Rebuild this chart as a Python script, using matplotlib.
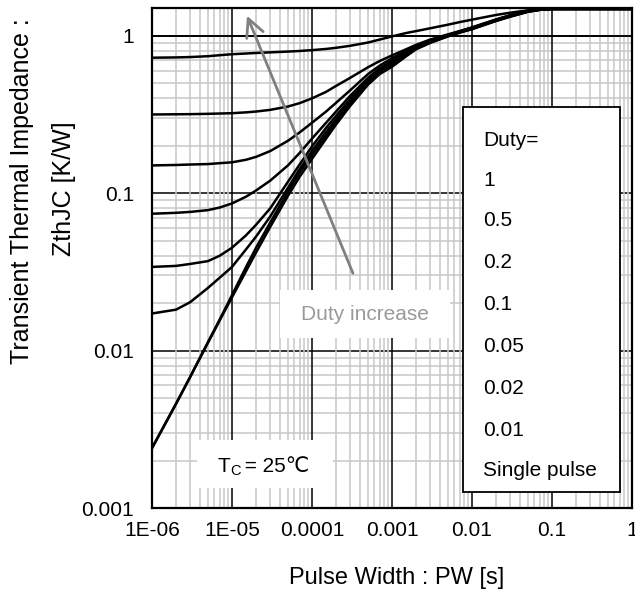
import matplotlib
matplotlib.use("Agg")
import matplotlib.pyplot as plt
from matplotlib.patches import Rectangle
from matplotlib.ticker import LogLocator, FixedLocator, FixedFormatter, NullFormatter

plt.rcParams['font.family'] = ['Liberation Sans', 'DejaVu Sans']

# ---------------- data ----------------
pulse_width = [1e-6, 2e-6, 3e-6, 5e-6, 7e-6, 1e-5, 1.5e-5, 2e-5, 3e-5, 5e-5,
               7e-5, 1e-4, 1.5e-4, 2e-4, 3e-4, 5e-4, 7e-4, 1e-3, 1.5e-3, 2e-3,
               3e-3, 5e-3, 7e-3, 1e-2, 2e-2, 3e-2, 5e-2, 7e-2, 1e-1, 1.0]

zth_d1 = [0.725, 0.728, 0.732, 0.741, 0.752, 0.763, 0.771, 0.777, 0.784, 0.793,
          0.80, 0.81, 0.824, 0.838, 0.863, 0.905, 0.945, 0.99, 1.04, 1.07,
          1.115, 1.175, 1.22, 1.265, 1.355, 1.40, 1.45, 1.47, 1.48, 1.48]
zth_d05 = [0.316, 0.317, 0.3175, 0.319, 0.3205, 0.322, 0.326, 0.33, 0.338, 0.355,
           0.373, 0.40, 0.44, 0.48, 0.54, 0.63, 0.69, 0.75, 0.82, 0.875,
           0.945, 1.02, 1.07, 1.13, 1.27, 1.35, 1.44, 1.47, 1.48, 1.48]
zth_d02 = [0.150, 0.151, 0.152, 0.153, 0.155, 0.157, 0.163, 0.17, 0.185, 0.215,
           0.243, 0.28, 0.33, 0.375, 0.45, 0.57, 0.645, 0.72, 0.80, 0.86,
           0.93, 1.01, 1.065, 1.125, 1.265, 1.345, 1.435, 1.465, 1.48, 1.48]
zth_d01 = [0.074, 0.075, 0.076, 0.078, 0.081, 0.086, 0.095, 0.104, 0.12, 0.15,
           0.18, 0.222, 0.28, 0.33, 0.415, 0.54, 0.62, 0.695, 0.785, 0.85,
           0.925, 1.005, 1.06, 1.12, 1.26, 1.34, 1.43, 1.465, 1.48, 1.48]
zth_d005 = [0.034, 0.0345, 0.0355, 0.037, 0.040, 0.045, 0.054, 0.063, 0.08, 0.118,
            0.152, 0.198, 0.26, 0.31, 0.395, 0.525, 0.605, 0.675, 0.77, 0.84,
            0.918, 1.0, 1.057, 1.115, 1.255, 1.335, 1.43, 1.465, 1.48, 1.48]
zth_d002 = [0.0172, 0.0182, 0.0203, 0.025, 0.029, 0.034, 0.044, 0.053, 0.071, 0.108,
            0.142, 0.185, 0.245, 0.295, 0.38, 0.51, 0.592, 0.66, 0.76, 0.832,
            0.912, 0.997, 1.053, 1.11, 1.25, 1.33, 1.425, 1.46, 1.48, 1.48]
zth_d001 = [0.0024, 0.0046, 0.0068, 0.0113, 0.0157, 0.0225, 0.034, 0.045, 0.065, 0.102,
            0.135, 0.175, 0.233, 0.285, 0.37, 0.50, 0.582, 0.648, 0.75, 0.826,
            0.907, 0.993, 1.05, 1.105, 1.245, 1.325, 1.42, 1.46, 1.48, 1.48]
zth_single = [0.0024, 0.0046, 0.0068, 0.0112, 0.0155, 0.0218, 0.032, 0.042, 0.061, 0.096,
              0.127, 0.165, 0.222, 0.273, 0.358, 0.488, 0.57, 0.635, 0.74, 0.82,
              0.90, 0.99, 1.045, 1.10, 1.24, 1.32, 1.42, 1.46, 1.48, 1.48]

series = [zth_d1, zth_d05, zth_d02, zth_d01, zth_d005, zth_d002, zth_d001, zth_single]

legend_labels = ["Duty=", "1", "0.5", "0.2", "0.1", "0.05", "0.02", "0.01", "Single pulse"]

x_ticks = [1e-6, 1e-5, 1e-4, 1e-3, 1e-2, 1e-1, 1]
x_tick_labels = ["1E-06", "1E-05", "0.0001", "0.001", "0.01", "0.1", "1"]
y_ticks = [0.001, 0.01, 0.1, 1]
y_tick_labels = ["0.001", "0.01", "0.1", "1"]

arrow_tail = (3.25e-4, 0.031)
arrow_tip = (1.54e-5, 1.34)

# ---------------- figure ----------------
fig = plt.figure(figsize=(6.35, 5.95), dpi=100)
ax = fig.add_axes([152/635, 1-508/595, 480/635, 500/595])
ax.set_xscale('log')
ax.set_yscale('log')
ax.set_xlim(1e-6, 1)
ax.set_ylim(0.001, 1.5)

for z in series:
    ax.plot(pulse_width, z, color='black', lw=1.8, zorder=3,
            solid_capstyle='butt', solid_joinstyle='round')

# ticks and grid
ax.xaxis.set_major_locator(FixedLocator(x_ticks))
ax.xaxis.set_major_formatter(FixedFormatter(x_tick_labels))
ax.yaxis.set_major_locator(FixedLocator(y_ticks))
ax.yaxis.set_major_formatter(FixedFormatter(y_tick_labels))
ax.xaxis.set_minor_locator(LogLocator(base=10, subs=range(2, 10), numticks=20))
ax.yaxis.set_minor_locator(LogLocator(base=10, subs=range(2, 10), numticks=20))
ax.xaxis.set_minor_formatter(NullFormatter())
ax.yaxis.set_minor_formatter(NullFormatter())

ax.grid(which='minor', color='#c8c8c8', lw=1.1)
ax.grid(which='major', color='black', lw=1.1)
ax.yaxis.set_zorder(1.0)
ax.xaxis.set_zorder(1.2)
ax.axhline(1, color='black', lw=1.3, zorder=1.4)

ax.tick_params(which='both', length=0)
ax.tick_params(axis='x', which='major', labelsize=15, pad=9)
ax.tick_params(axis='y', which='major', labelsize=15, pad=13)

for sp in ax.spines.values():
    sp.set_linewidth(1.6)
    sp.set_color('black')
    sp.set_zorder(5)

# arrow "Duty increase"
ax.annotate('', xy=arrow_tip, xytext=arrow_tail,
            arrowprops=dict(arrowstyle='->', color='#808080', lw=2.0,
                            mutation_scale=32, shrinkA=0, shrinkB=0),
            zorder=3.5)

# Duty increase box + text
ax.add_patch(Rectangle(((280-152)/480, (508-338)/500), 170/480, 48/500,
                       transform=ax.transAxes, facecolor='white', edgecolor='none', zorder=2))
ax.text((365-152)/480, (508-314)/500, "Duty increase", transform=ax.transAxes,
        ha='center', va='center', fontsize=15, color='#9a9a9a', zorder=2.5)

# Tc box + text
ax.add_patch(Rectangle(((197-152)/480, (508-488)/500), 136/480, 48/500,
                       transform=ax.transAxes, facecolor='white', edgecolor='none', zorder=2))
ax.text((217-152)/480, (508-472)/500, "T", transform=ax.transAxes,
        ha='left', va='baseline', fontsize=15, zorder=2.5)
ax.text((230-152)/480, (508-475)/500, "C", transform=ax.transAxes,
        ha='left', va='baseline', fontsize=10.5, zorder=2.5)
ax.text((239-152)/480, (508-472)/500, " = 25\u2103", transform=ax.transAxes,
        ha='left', va='baseline', fontsize=15, zorder=2.5)

# legend box
ax.add_patch(Rectangle(((463-152)/480, (508-492)/500), 157/480, 385/500,
                       transform=ax.transAxes, facecolor='white', edgecolor='black',
                       lw=1.3, zorder=4))
leg_y = [140, 180, 221, 263, 304, 347, 388, 430, 471]
for lab, yy in zip(legend_labels, leg_y):
    ax.text((483-152)/480, (508-yy)/500, lab, transform=ax.transAxes,
            ha='left', va='center', fontsize=15, zorder=4.5)

# axis labels
fig.text(397/635, 1-578/595, "Pulse Width : PW [s]", ha='center', va='center', fontsize=17)
fig.text(22/635, 1-191/595, "Transient Thermal Impedance :", ha='center', va='center',
         rotation=90, fontsize=18)
fig.text(64/635, 1-189/595, "ZthJC [K/W]", ha='center', va='center',
         rotation=90, fontsize=18)

fig.savefig("out.png", dpi=100)
